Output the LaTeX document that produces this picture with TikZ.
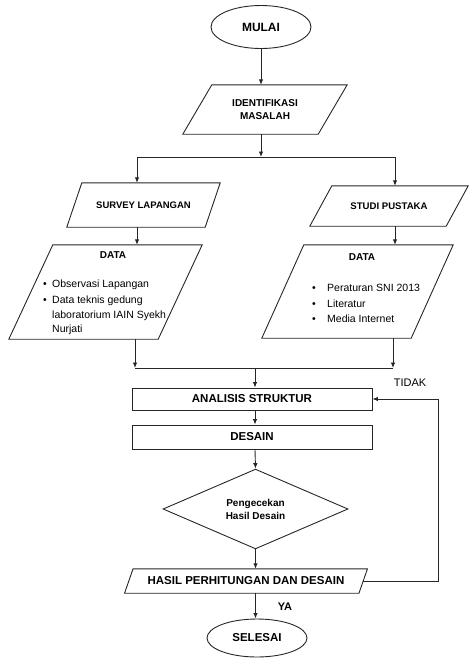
\documentclass[tikz,border=0pt]{standalone}
\usepackage{fontspec}
\setmainfont{Liberation Sans}
\usetikzlibrary{shapes.geometric,arrows.meta}
\newcommand\paraoutline[2]{\draw[line] ([xshift=#2/2]#1.north west) -- ([xshift=#2/2]#1.north east) -- ([xshift=-#2/2]#1.south east) -- ([xshift=-#2/2]#1.south west) -- cycle;}
\begin{document}
\begin{tikzpicture}[x=1pt,y=-1pt,
  line/.style={draw=black!85, line width=0.9pt},
  arr/.style={line, -{Latex[length=5.5pt,width=4.5pt]}},
  para/.style={rectangle, draw=none, inner sep=0pt, align=center},
  box/.style={rectangle, draw=black!85, line width=0.9pt, inner sep=0pt},
  term/.style={ellipse, draw=black!85, line width=0.9pt, inner sep=0pt},
  dia/.style={diamond, draw=black!85, line width=0.9pt, inner sep=0pt, align=center},
  hfont/.style={font=\bfseries\fontsize{#1}{13}\selectfont},
  lfont/.style={font=\fontsize{10.5}{13}\selectfont, inner sep=0pt, anchor=west},
]
\useasboundingbox (0,0) rectangle (469,659);

% terminals
\node[term, minimum width=100, minimum height=43, hfont=12] (mulai) at (261,27) {MULAI};
\node[term, minimum width=100, minimum height=38, hfont=11.5] (selesai) at (257,638) {SELESAI};

% parallelograms (node = body rectangle, outline drawn slanted)
\node[para, minimum width=135, minimum height=49, hfont=10] (ident) at (265,109.5) {IDENTIFIKASI\\MASALAH};
\paraoutline{ident}{29}
\node[para, minimum width=138, minimum height=44, hfont=9.5] (survey) at (143.5,205) {SURVEY LAPANGAN};
\paraoutline{survey}{15}
\node[para, minimum width=136, minimum height=40, hfont=9.6] (studi) at (389,206) {STUDI PUSTAKA};
\paraoutline{studi}{22}
\node[para, minimum width=149, minimum height=94] (dataL) at (105.5,292) {};
\paraoutline{dataL}{44}
\node[para, minimum width=149, minimum height=93] (dataR) at (357.5,291.5) {};
\paraoutline{dataR}{42}
\node[para, minimum width=234, minimum height=24, hfont=11.5] (hasil) at (246,581) {HASIL PERHITUNGAN DAN DESAIN};
\paraoutline{hasil}{8.5}

% data texts
\node[hfont=10, inner sep=0pt] (dl0) at (113,255) {DATA};
\node[lfont] (dl1) at (43,285) {\makebox[9pt][l]{•}Observasi Lapangan};
\node[lfont] (dl2) at (43,301) {\makebox[9pt][l]{•}Data teknis gedung};
\node[lfont] (dl3) at (43,316) {\hspace*{9pt}laboratorium IAIN Syekh};
\node[lfont] (dl4) at (43,330) {\hspace*{9pt}Nurjati};
\node[hfont=10, inner sep=0pt] (dr0) at (362,257) {DATA};
\node[lfont] (dr1) at (312,288) {\makebox[15pt][l]{•}Peraturan SNI 2013};
\node[lfont] (dr2) at (312,304) {\makebox[15pt][l]{•}Literatur};
\node[lfont] (dr3) at (312,319) {\makebox[15pt][l]{•}Media Internet};

% process boxes
\node[box, minimum width=240, minimum height=22, hfont=11.5] (analisis) at (252,399) {ANALISIS STRUKTUR};
\node[box, minimum width=240, minimum height=24, hfont=11.5] (desain) at (252,437) {DESAIN};
\node[dia, minimum width=185, minimum height=66, hfont=10] (cek) at (255.5,509) {Pengecekan\\Hasil Desain};

% labels
\node[font=\fontsize{11}{13}\selectfont, inner sep=0pt] (tidak) at (410,383) {TIDAK};
\node[hfont=11, inner sep=0pt] (ya) at (285,607) {YA};

% junction coordinates
\coordinate (sm) at (261,157);
\coordinate (sl) at (137,157);
\coordinate (sr) at (395,157);
\coordinate (ml) at (135,368);
\coordinate (mr) at (393,368);
\coordinate (mm) at (255,368);
\coordinate (fb) at (438,581);

% connectors
\draw[arr] (mulai) -- (sm |- ident.north);
\draw[arr] (sm |- ident.south) -- (sm);
\draw[line] (sl) -- (sr);
\draw[arr] (sl) -- (sl |- survey.north);
\draw[arr] (sr) -- (sr |- studi.north);
\draw[arr] (sl |- survey.south) -- (sl |- dataL.north);
\draw[arr] (sr |- studi.south) -- (sr |- dataR.north);
\draw[arr] (ml |- dataL.south) -- (ml);
\draw[arr] (mr |- dataR.south) -- (mr);
\draw[line] (ml) -- (mr);
\draw[arr] (mm) -- (mm |- analisis.north);
\draw[arr] (mm |- analisis.south) -- (mm |- desain.north);
\draw[arr] (mm |- desain.south) -- (cek.north);
\draw[arr] (cek.south) -- (cek.south |- hasil.north);
\draw[arr] (cek.south |- hasil.south) -- (cek.south |- selesai.north);
\draw[arr] (hasil.east) -- (fb) |- (analisis.east);
\end{tikzpicture}
\end{document}
